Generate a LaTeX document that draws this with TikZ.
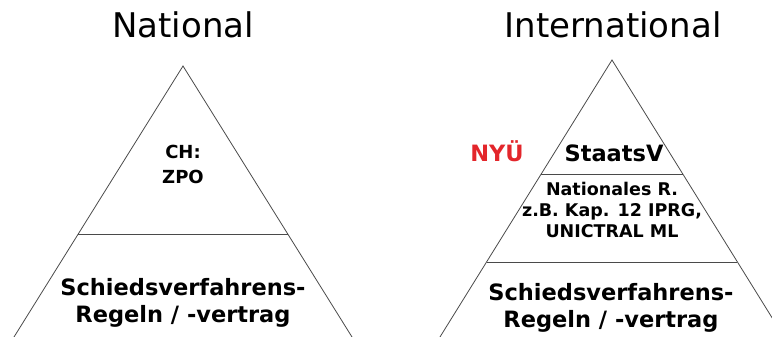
\documentclass[tikz,border=0pt]{standalone}
\usepackage{fontspec}
\setmainfont{DejaVu Sans}
\usetikzlibrary{calc}
\definecolor{cred}{HTML}{E3262B}
\definecolor{cline}{HTML}{4A4A4A}
\tikzset{
  every picture/.style={line width=0.9pt},
  side/.style={draw=cline, line width=0.8pt},
  level/.style={draw=cline, line width=1pt},
  head/.style={font=\fontsize{34}{40}\selectfont, anchor=base, inner sep=0pt},
  big/.style={font=\bfseries\fontsize{22.5}{27.5}\selectfont, align=center, inner sep=0pt},
  mid/.style={font=\bfseries\fontsize{18}{25}\selectfont, align=center, inner sep=0pt},
  small/.style={font=\bfseries\fontsize{17.5}{21}\selectfont, align=center, inner sep=0pt},
}

\begin{document}
\begin{tikzpicture}[x=1pt, y=-1pt]
  \useasboundingbox (0,0) rectangle (772,337);
  \clip (0,0) rectangle (772,337);
  \coordinate (ntop) at (183,66);
  \coordinate (nbl) at (9,345);
  \coordinate (nbr) at (357,345);
  \coordinate (itop) at (612,60);
  \coordinate (ibl) at (435,345);
  \coordinate (ibr) at (789,345);
  \draw[side] (nbl) -- (ntop) -- (nbr);
  \draw[side] (ibl) -- (itop) -- (ibr);
  \draw[level] ($(ntop)!0.6057!(nbl)$) -- ($(ntop)!0.6057!(nbr)$);
  \draw[level] ($(itop)!0.4035!(ibl)$) -- ($(itop)!0.4035!(ibr)$);
  \draw[level] ($(itop)!0.7088!(ibl)$) -- ($(itop)!0.7088!(ibr)$);
  \node[head] (national) at (183,38) {National};
  \node[head] (international) at (613,38) {International};
  \node[mid] (zpo) at (183,164) {CH:\\ZPO};
  \node[big] (nrules) at (183,303) {Schiedsverfahrens-\\Regeln / -vertrag};
  \node[big, anchor=base, text=cred] (nyu) at (497,161) {NYÜ};
  \node[big, anchor=base] (staatsv) at (614,161) {StaatsV};
  \node[small] (natr) at (612,210) {Nationales R.\\z.B. Kap. 12 IPRG,\\UNICTRAL ML};
  \node[big] (irules) at (611,308) {Schiedsverfahrens-\\Regeln / -vertrag};
\end{tikzpicture}
\end{document}
